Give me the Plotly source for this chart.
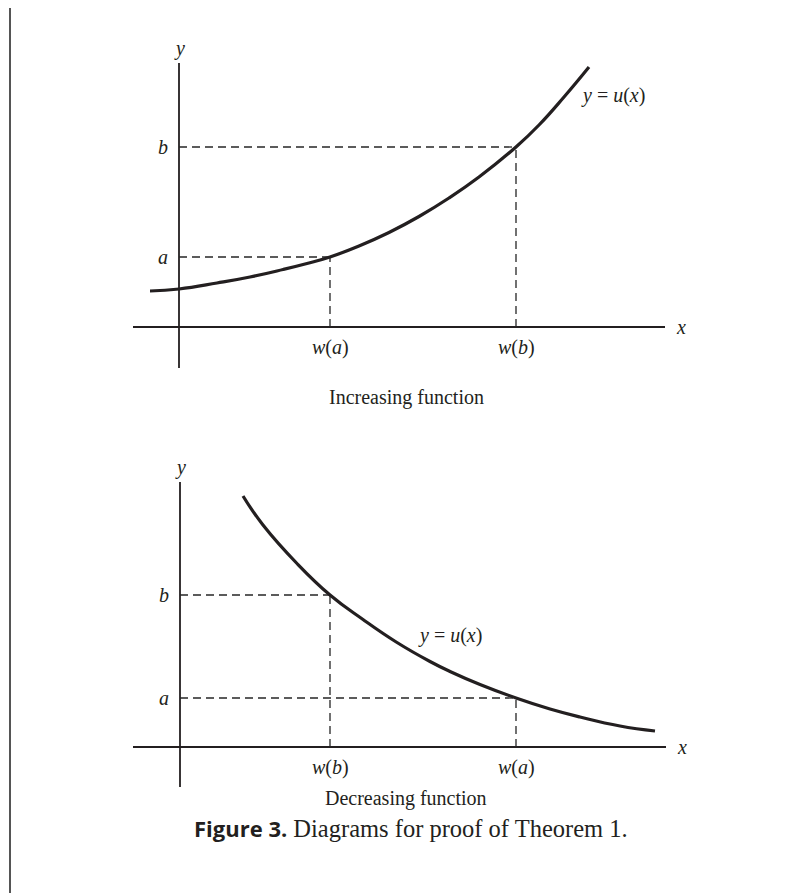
import plotly.graph_objects as go

# ---------------- data (diagram units) ----------------
# Increasing function panel
inc_x = [-2.9, 0.0, 3.8, 7.1, 10.4, 12.8, 15.1, 18.0, 21.0, 24.0, 27.0, 30.0, 33.7, 36.0, 38.5, 41.0]
inc_y = [3.6, 3.8, 4.4, 5.0, 5.75, 6.35, 7.0, 8.1, 9.45, 11.05, 12.9, 15.0, 18.0, 20.2, 23.0, 26.0]
inc_a, inc_b = 7.0, 18.0
inc_wa, inc_wb = 15.1, 33.7
inc_xaxis_ext = [-4.6, 48.6]
inc_yaxis_ext = [-4.1, 26.4]

# Decreasing function panel
dec_x = [6.3, 8.3, 11.7, 15.0, 18.3, 21.7, 25.0, 27.0, 30.0, 33.6, 37.0, 40.0, 44.0, 47.5]
dec_y = [25.1, 22.2, 18.35, 15.2, 12.75, 10.45, 8.55, 7.55, 6.25, 4.9, 3.8, 3.0, 2.1, 1.6]
dec_a, dec_b = 4.9, 15.2
dec_wa, dec_wb = 33.6, 15.0
dec_xaxis_ext = [-4.7, 48.6]
dec_yaxis_ext = [-4.0, 26.5]

panel_titles = ["Increasing function", "Decreasing function"]
caption_bold = "Figure 3."
caption_rest = "Diagrams for proof of Theorem 1."

INK = "#231f20"
SERIF = "Liberation Serif"

W, H = 809, 893
OFF = 8  # page body margin


def px(x):
    return (x - OFF) / W


def py(y):
    return 1 - (y - OFF) / H


fig = go.Figure()


def add_panel(fig, idx, cx, cy, a, b, wa, wb, xext, yext, lab_pos):
    xr, yr = ("x", "y") if idx == 1 else (f"x{idx}", f"y{idx}")
    axl = dict(color=INK, width=1.8)
    fig.add_trace(go.Scatter(x=xext, y=[0, 0], mode="lines", xaxis=xr, yaxis=yr,
                             line=axl, hoverinfo="skip"))
    fig.add_trace(go.Scatter(x=[0, 0], y=yext, mode="lines", xaxis=xr, yaxis=yr,
                             line=axl, hoverinfo="skip"))
    dash = dict(color="#262626", width=1.3, dash="8px,5px")
    for (wx, lv) in ((wa, a), (wb, b)):
        fig.add_trace(go.Scatter(x=[0, wx], y=[lv, lv], mode="lines", xaxis=xr, yaxis=yr,
                                 line=dash, hoverinfo="skip"))
        fig.add_trace(go.Scatter(x=[wx, wx], y=[0, lv], mode="lines", xaxis=xr, yaxis=yr,
                                 line=dash, hoverinfo="skip"))
    fig.add_trace(go.Scatter(x=cx, y=cy, mode="lines", xaxis=xr, yaxis=yr,
                             line=dict(color=INK, width=3.2, shape="spline", smoothing=1.3),
                             hoverinfo="skip"))
    f = dict(family=SERIF, size=20, color=INK)
    ann = [
        dict(x=0, y=yext[1] + 1.5, text="<i>y</i>", xanchor="center", yanchor="middle"),
        dict(x=xext[1] + 0.9, y=0, text="<i>x</i>", xanchor="left", yanchor="middle"),
        dict(x=-0.9, y=b, text="<i>b</i>", xanchor="right", yanchor="middle"),
        dict(x=-0.9, y=a, text="<i>a</i>", xanchor="right", yanchor="middle"),
        dict(x=wa, y=-2.0, text="<i>w</i>(<i>a</i>)", xanchor="center", yanchor="middle"),
        dict(x=wb, y=-2.0, text="<i>w</i>(<i>b</i>)", xanchor="center", yanchor="middle"),
        dict(x=lab_pos[0], y=lab_pos[1], text="<i>y</i> = <i>u</i>(<i>x</i>)",
             xanchor="center", yanchor="middle"),
    ]
    for d in ann:
        d.update(xref=xr, yref=yr, showarrow=False, font=f)
        fig.add_annotation(**d)


add_panel(fig, 1, inc_x, inc_y, inc_a, inc_b, inc_wa, inc_wb,
          inc_xaxis_ext, inc_yaxis_ext, (43.4, 23.2))
add_panel(fig, 2, dec_x, dec_y, dec_a, dec_b, dec_wa, dec_wb,
          dec_xaxis_ext, dec_yaxis_ext, (27.0, 11.2))

fig.add_annotation(xref="paper", yref="paper", x=px(406), y=py(397), text=panel_titles[0],
                   showarrow=False, font=dict(family=SERIF, size=20, color=INK))
fig.add_annotation(xref="paper", yref="paper", x=px(406), y=py(812), text=panel_titles[1],
                   showarrow=False, font=dict(family=SERIF, size=20, color=INK))
fig.add_annotation(xref="paper", yref="paper", x=px(411), y=py(845),
                   text=f"<span style=\"font-family:'Open Sans';font-weight:bold;font-size:22px\">{caption_bold}</span> {caption_rest}",
                   showarrow=False, font=dict(family=SERIF, size=24.5, color=INK))

# left page rule
fig.add_shape(type="line", xref="paper", yref="paper", x0=px(10), x1=px(10), y0=0, y1=1,
              line=dict(color="#555555", width=2))

ax_common = dict(visible=False, showgrid=False, zeroline=False, fixedrange=True)
fig.update_layout(
    width=W, height=H,
    margin=dict(l=0, r=0, t=0, b=0),
    paper_bgcolor="white", plot_bgcolor="white",
    showlegend=False,
    xaxis=dict(domain=[px(100), px(720)], range=[-7.9, 54.1], anchor="y", **ax_common),
    yaxis=dict(domain=[py(400), py(20)], range=[-7.3, 30.7], anchor="x", **ax_common),
    xaxis2=dict(domain=[px(100), px(720)], range=[-8.0, 54.0], anchor="y2", **ax_common),
    yaxis2=dict(domain=[py(820), py(440)], range=[-7.3, 30.7], anchor="x2", **ax_common),
)

fig.write_html("out.html")
